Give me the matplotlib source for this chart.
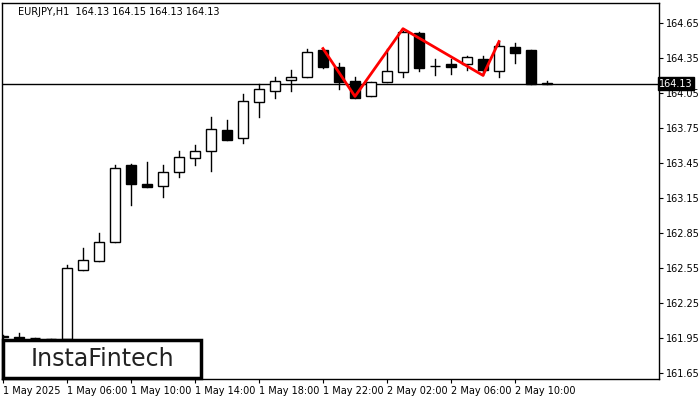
import matplotlib
matplotlib.use("Agg")
import matplotlib.pyplot as plt
from matplotlib.patches import Rectangle

opens  = [161.96,161.96,161.95,161.94,161.94,162.53,162.61,162.77,163.43,163.27,163.25,163.37,163.49,163.55,163.73,163.66,163.97,164.07,164.16,164.19,164.42,164.27,164.15,164.02,164.14,164.23,164.56,164.28,164.30,164.30,164.34,164.24,164.44,164.42,164.13]
closes = [161.96,161.95,161.95,161.94,162.55,162.62,162.77,163.41,163.27,163.24,163.37,163.50,163.55,163.74,163.65,163.98,164.08,164.15,164.19,164.40,164.27,164.14,164.01,164.14,164.24,164.57,164.26,164.28,164.27,164.36,164.25,164.45,164.39,164.13,164.13]
highs  = [161.98,161.99,161.95,161.94,162.58,162.72,162.85,163.43,163.44,163.46,163.43,163.55,163.60,163.84,163.82,164.04,164.13,164.19,164.25,164.43,164.42,164.31,164.19,164.14,164.43,164.58,164.57,164.34,164.34,164.37,164.37,164.49,164.48,164.42,164.15]
lows   = [161.95,161.94,161.94,161.93,161.92,162.53,162.61,162.77,163.09,163.24,163.16,163.33,163.43,163.38,163.65,163.62,163.84,164.01,164.07,164.19,164.26,164.08,164.01,164.02,164.14,164.19,164.24,164.20,164.21,164.25,164.20,164.19,164.31,164.13,164.13]
pattern_idx = [20, 22, 25, 30, 31]
pattern_px  = [164.43, 164.02, 164.60, 164.20, 164.49]
last_price = 164.13
yticks = [164.65,164.35,164.05,163.75,163.45,163.15,162.85,162.55,162.25,161.95,161.65]
xtick_idx = [0,4,8,12,16,20,24,28,32]
xtick_labels = ["1 May 2025","1 May 06:00","1 May 10:00","1 May 14:00","1 May 18:00",
                "1 May 22:00","2 May 02:00","2 May 06:00","2 May 10:00"]

fig = plt.figure(figsize=(7,4), dpi=100)
ax = fig.add_axes([2/700, 21/400, 657/700, 376/400])
ax.set_xlim(-0.06, 41)
ax.set_ylim(161.60, 164.82)

w = 0.6
for i,(o,c,h,l) in enumerate(zip(opens,closes,highs,lows)):
    ax.plot([i,i],[l,h],color="black",lw=1,zorder=2)
    bottom = min(o,c); hgt = max(abs(c-o), 0.004)
    fc = "white" if c >= o else "black"
    ax.add_patch(Rectangle((i-w/2,bottom),w,hgt,facecolor=fc,edgecolor="black",lw=1,zorder=3))

ax.plot(pattern_idx, pattern_px, color="red", lw=2, zorder=4)
ax.axhline(last_price, color="black", lw=1, zorder=1)

ax.yaxis.tick_right()
ax.set_yticks(yticks)
ax.set_yticklabels([f"{v:.2f}" for v in yticks], fontsize=7)
ax.set_xticks(xtick_idx)
ax.set_xticklabels(xtick_labels, fontsize=7, ha="left")
ax.tick_params(length=3, pad=2)
ax.text(1.0, last_price, f"{last_price:.2f}", transform=ax.get_yaxis_transform(),
        fontsize=7, color="white", va="center", ha="left",
        bbox=dict(boxstyle="square,pad=0.15", fc="black", ec="black"))
for s in ax.spines.values():
    s.set_linewidth(1)

fig.text(18/700, 1-12/400, "EURJPY,H1  164.13 164.15 164.13 164.13", fontsize=7, va="center")
fig.patches.append(Rectangle((3/700, 22/400), 198/700, 38/400, transform=fig.transFigure,
                             facecolor="white", edgecolor="black", lw=2.5, zorder=10))
fig.text(102/700, 41/400, "InstaFintech", fontsize=17, color="#222222",
         ha="center", va="center", zorder=11)
fig.savefig("out.png", dpi=100)
